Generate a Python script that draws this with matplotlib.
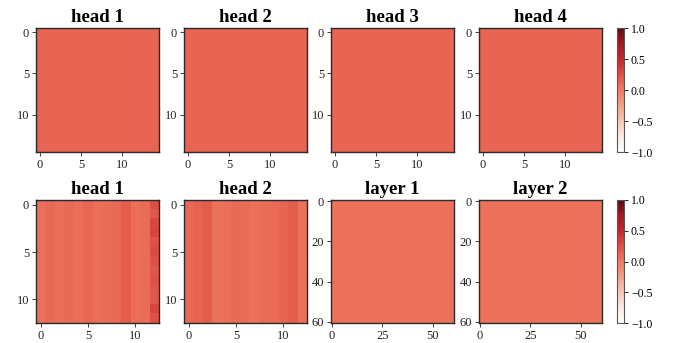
import colorsys
import numpy as np
import matplotlib
matplotlib.use('Agg')
import matplotlib.pyplot as plt
from matplotlib.colors import ListedColormap

plt.rcParams['font.family'] = ['Liberation Serif', 'DejaVu Serif']

# top row: 4 attention heads, 15x15, nearly uniform
top_titles = ['head 1', 'head 2', 'head 3', 'head 4']
top_values = [0.12, 0.12, 0.12, 0.12]
top_size = 15

# bottom row: 2 heads (13x13) with column structure, 2 layers (61x61)
bot_titles = ['head 1', 'head 2', 'layer 1', 'layer 2']

head1_cols = [0.06, 0.10, 0.07, 0.10, 0.07, 0.12, 0.07, 0.08, 0.10, 0.16, 0.07, 0.08, 0.24]
head1_col12_rows = [0.26, 0.20, 0.30, 0.32, 0.24, 0.28, 0.24, 0.20, 0.24, 0.20, 0.20, 0.32, 0.24]
head2_cols = [0.10, 0.13, 0.17, 0.05, 0.06, 0.09, 0.08, 0.05, 0.08, 0.09, 0.11, 0.17, 0.05]
layer_values = [0.05, 0.05]
layer_size = 61

head1 = np.tile(np.array(head1_cols), (13, 1))
head1[:, 12] = head1_col12_rows
head2 = np.tile(np.array(head2_cols), (13, 1))

# muted version of Reds
base = plt.get_cmap('Reds')(np.linspace(0, 1, 256))
muted = []
for r, g, b, a in base:
    h, l, s = colorsys.rgb_to_hls(r, g, b)
    r2, g2, b2 = colorsys.hls_to_rgb(h, min(1, l * 1.03), s * 0.84)
    muted.append((r2, g2, b2, 1.0))
cmap = ListedColormap(muted)

fig = plt.figure(figsize=(6.73, 3.43), dpi=100)
W, H = 673, 343

def px_axes(x0, y0, x1, y1):
    return fig.add_axes([x0 / W, 1 - y1 / H, (x1 - x0) / W, (y1 - y0) / H])

xs = [(36, 159), (184, 307), (331, 454), (479, 602)]
top_y = (28, 152)
bot_y = (200, 323)

def style(ax, ticks_x, ticks_y):
    ax.set_xticks(ticks_x)
    ax.set_yticks(ticks_y)
    ax.tick_params(labelsize=9, length=3, width=0.6, pad=2, colors='#222222')
    for s in ax.spines.values():
        s.set_color('#2a2a2a')
        s.set_linewidth(1.0)

def add_cbar(im, y):
    cax = px_axes(617, y[0], 624, y[1])
    cb = fig.colorbar(im, cax=cax, ticks=[-1, -0.5, 0, 0.5, 1])
    cb.ax.tick_params(labelsize=8.5, length=3, width=0.6, pad=2)
    cb.outline.set_linewidth(0.8)
    cb.outline.set_edgecolor('#555555')

im = None
for i in range(4):
    ax = px_axes(xs[i][0], top_y[0], xs[i][1], top_y[1])
    data = np.full((top_size, top_size), top_values[i])
    im = ax.imshow(data, cmap=cmap, vmin=-1, vmax=1, aspect='auto')
    ax.set_title(top_titles[i], fontsize=13.5, fontweight='bold', pad=4)
    style(ax, [0, 5, 10], [0, 5, 10])
add_cbar(im, top_y)

bot_data = [head1, head2,
            np.full((layer_size, layer_size), layer_values[0]),
            np.full((layer_size, layer_size), layer_values[1])]
for i in range(4):
    ax = px_axes(xs[i][0], bot_y[0], xs[i][1], bot_y[1])
    im = ax.imshow(bot_data[i], cmap=cmap, vmin=-1, vmax=1, aspect='auto')
    ax.set_title(bot_titles[i], fontsize=13.5, fontweight='bold', pad=4)
    if i < 2:
        style(ax, [0, 5, 10], [0, 5, 10])
    else:
        style(ax, [0, 25, 50], [0, 20, 40, 60])
add_cbar(im, bot_y)

fig.savefig('out.png', dpi=100)
